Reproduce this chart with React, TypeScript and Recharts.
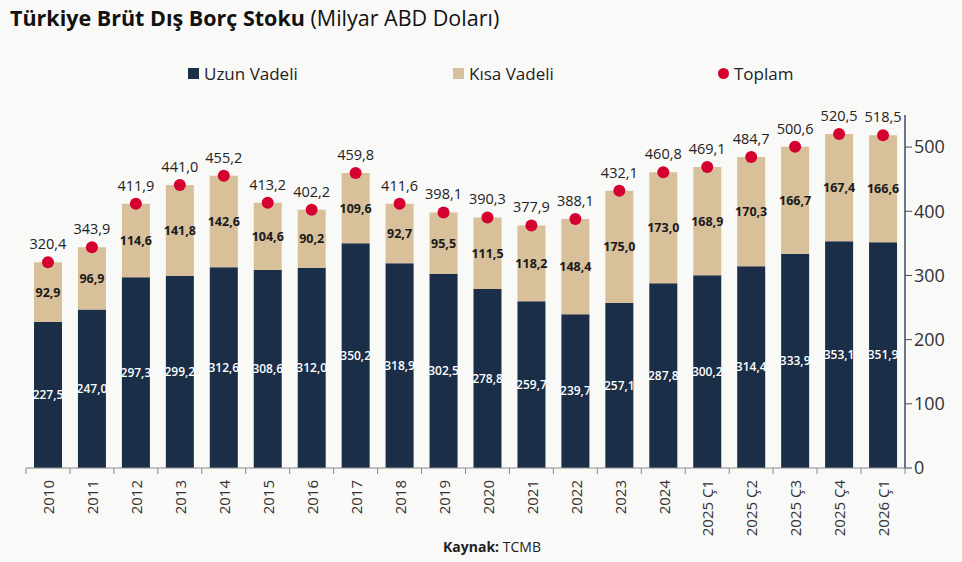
import React from "react";
import {
  ComposedChart,
  Bar,
  Line,
  XAxis,
  YAxis,
  LabelList,
} from "recharts";

document.body.style.margin = "0";

const CATEGORIES = [
  "2010", "2011", "2012", "2013", "2014", "2015", "2016", "2017", "2018", "2019",
  "2020", "2021", "2022", "2023", "2024", "2025 Ç1", "2025 Ç2", "2025 Ç3", "2025 Ç4", "2026 Ç1",
];
const UZUN = [
  227.5, 247.0, 297.3, 299.2, 312.6, 308.6, 312.0, 350.2, 318.9, 302.5,
  278.8, 259.7, 239.7, 257.1, 287.8, 300.2, 314.4, 333.9, 353.1, 351.9,
];
const KISA = [
  92.9, 96.9, 114.6, 141.8, 142.6, 104.6, 90.2, 109.6, 92.7, 95.5,
  111.5, 118.2, 148.4, 175.0, 173.0, 168.9, 170.3, 166.7, 167.4, 166.6,
];
const TOPLAM = [
  320.4, 343.9, 411.9, 441.0, 455.2, 413.2, 402.2, 459.8, 411.6, 398.1,
  390.3, 377.9, 388.1, 432.1, 460.8, 469.1, 484.7, 500.6, 520.5, 518.5,
];
const Y_TICKS = [0, 100, 200, 300, 400, 500];

const NAVY = "#1b2e47";
const TAN = "#d8c09a";
const RED = "#d4002f";
const FONT = "'Open Sans', 'Noto Sans', sans-serif";

const data = CATEGORIES.map((c, i) => ({
  name: c,
  uzun: UZUN[i],
  kisa: KISA[i],
  toplam: TOPLAM[i],
}));

const fmt = (v: any) => Number(v).toFixed(1).replace(".", ",");

const HALF_BAND = 22;

function XTick(props: any) {
  const { x, y, payload, index } = props;
  const last = index === CATEGORIES.length - 1;
  return (
    <g>
      <line x1={x - HALF_BAND} y1={y - 8} x2={x - HALF_BAND} y2={y - 2} stroke="#8a8a8a" />
      {last && <line x1={x + HALF_BAND} y1={y - 8} x2={x + HALF_BAND} y2={y - 2} stroke="#8a8a8a" />}
      <text
        transform={`translate(${x + 1},${y + 4}) rotate(-90)`}
        textAnchor="end"
        dy="0.35em"
        fontSize={15}
        fill="#333"
        fontFamily={FONT}
      >
        {payload.value}
      </text>
    </g>
  );
}

function ChartLegend() {
  const item = (label: string, marker: React.ReactNode) => (
    <div style={{ width: 265, display: "flex", alignItems: "center", gap: 5 }}>
      {marker}
      <span style={{ fontSize: 17, color: "#222", fontFamily: FONT }}>{label}</span>
    </div>
  );
  return (
    <div style={{ position: "absolute", top: 62, left: 0, display: "flex", paddingLeft: 188 }}>
      {item("Uzun Vadeli", <span style={{ width: 11, height: 11, background: NAVY, display: "inline-block" }} />)}
      {item("Kısa Vadeli", <span style={{ width: 11, height: 11, background: TAN, display: "inline-block" }} />)}
      {item(
        "Toplam",
        <span style={{ width: 11, height: 11, borderRadius: 6, background: RED, display: "inline-block" }} />
      )}
    </div>
  );
}

export default function App() {
  return (
    <div style={{ position: "relative", width: 962, height: 562, background: "#f9f9f8", fontFamily: FONT }}>
      <div style={{ position: "absolute", left: 10, top: 3, fontSize: 21.5, color: "#111" }}>
        <b>Türkiye Brüt Dış Borç Stoku</b> <span>(Milyar ABD Doları)</span>
      </div>
      <ChartLegend />
      <ComposedChart
        width={962}
        height={562}
        data={data}
        margin={{ top: 115, right: 7, bottom: 14, left: 26 }}
        barCategoryGap={8}
      >
        <XAxis
          dataKey="name"
          height={80}
          interval={0}
          tick={<XTick />}
          tickLine={false}
          axisLine={{ stroke: "#8a8a8a" }}
        />
        <YAxis
          orientation="right"
          width={50}
          domain={[0, 550]}
          ticks={Y_TICKS}
          tick={{ fontSize: 18, fill: "#333", fontFamily: FONT }}
          tickSize={7}
          tickLine={{ stroke: "#3e4d5e" }}
          axisLine={{ stroke: "#3e4d5e", strokeWidth: 1.5 }}
        />
        <Bar dataKey="uzun" stackId="a" fill={NAVY} isAnimationActive={false}>
          <LabelList
            dataKey="uzun"
            position="center"
            formatter={fmt}
            fill="#fff"
            fontSize={12}
            fontWeight={600}
            fontFamily={FONT}
          />
        </Bar>
        <Bar dataKey="kisa" stackId="a" fill={TAN} isAnimationActive={false}>
          <LabelList
            dataKey="kisa"
            position="center"
            formatter={fmt}
            fill="#1a1a1a"
            fontSize={12.5}
            fontWeight={700}
            fontFamily={FONT}
          />
        </Bar>
        <Line
          dataKey="toplam"
          stroke="none"
          dot={{ r: 6, fill: RED, stroke: "none" }}
          activeDot={false}
          isAnimationActive={false}
        >
          <LabelList
            dataKey="toplam"
            position="top"
            offset={13}
            formatter={fmt}
            fill="#222"
            fontSize={14.5}
            fontFamily={FONT}
          />
        </Line>
      </ComposedChart>
      <div
        style={{
          position: "absolute",
          left: 0,
          width: 962,
          textAlign: "center",
          top: 537,
          fontSize: 14,
          color: "#222",
        }}
      >
        <span style={{ marginLeft: 22 }}>
          <b>Kaynak:</b> TCMB
        </span>
      </div>
    </div>
  );
}
